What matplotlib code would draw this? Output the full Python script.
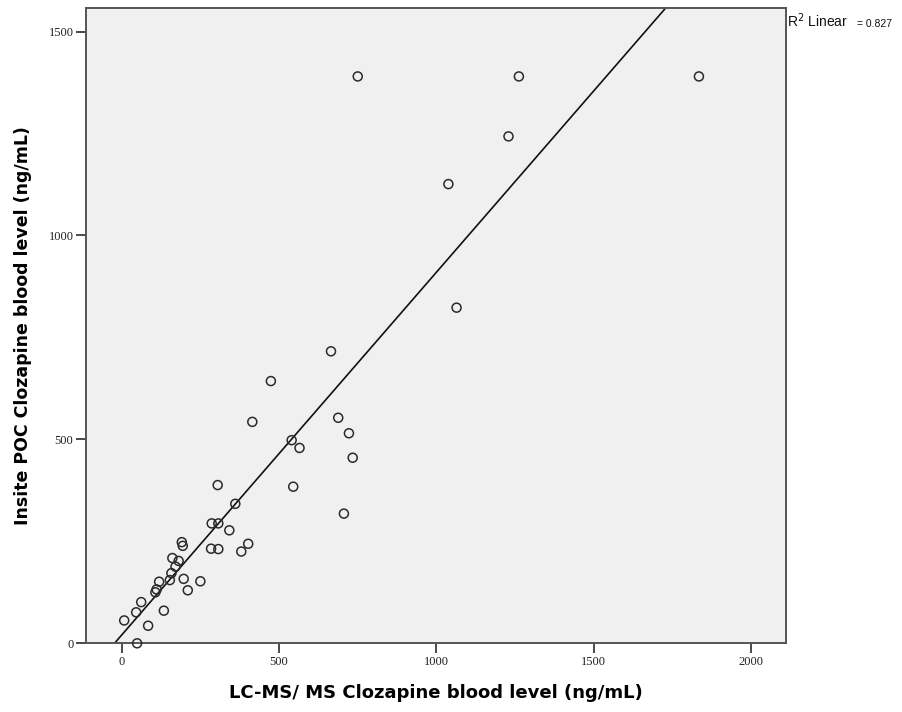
"""Scatter of Insite POC vs LC-MS/MS clozapine levels with a linear fit line."""

import matplotlib

matplotlib.use("Agg")

import matplotlib.pyplot as plt  # noqa: E402
import numpy as np  # noqa: E402

# LC-MS/MS clozapine level (ng/mL)
lcms = [
    750, 1262, 1834, 1229, 1038, 1064, 665, 474, 415, 688, 722,
    734, 540, 565, 545, 706, 305, 361, 286, 307, 342, 284,
    307, 380, 402, 191, 194, 161, 181, 171, 158, 153, 119,
    111, 107, 197, 250, 210, 134, 62, 46, 8, 84, 49,
]
# Insite POC clozapine level (ng/mL)
poc = [
    1390, 1390, 1390, 1243, 1126, 823, 716, 643, 543, 553, 515,
    455, 498, 479, 384, 318, 388, 342, 294, 294, 277, 232,
    231, 225, 244, 248, 239, 209, 202, 188, 172, 155, 151,
    132, 125, 158, 152, 130, 80, 101, 76, 56, 43, 0,
]
x_ticks = [0, 500, 1000, 1500, 2000]
y_ticks = [0, 500, 1000, 1500]
r2_text = "= 0.827"

BG = "#f0f0f0"
INK = "#2b2b2b"

fig = plt.figure(figsize=(9.03, 7.12), dpi=100)
ax = fig.add_axes([0.0952, 0.0965, 0.775, 0.8918])
ax.set_facecolor(BG)

ax.scatter(lcms, poc, s=42, facecolors="none", edgecolors=INK,
           linewidths=1.1, zorder=3, clip_on=False)

# least-squares fit line across the whole plot area
slope, intercept = np.polyfit(lcms, poc, 1)
xl = np.array([-200, 2200])
ax.plot(xl, slope * xl + intercept, color="#111111", lw=1.2, zorder=2)

ax.set_xlim(-113.5, 2110)
ax.set_ylim(0, 1557)
ax.set_xticks(x_ticks)
ax.set_yticks(y_ticks)
ax.tick_params(direction="out", length=7, width=1.2, color=INK,
               labelsize=9, labelcolor="#222222", pad=2)
for lab in ax.get_xticklabels() + ax.get_yticklabels():
    lab.set_family("Liberation Serif")
for side in ax.spines.values():
    side.set_color("#555555")
    side.set_linewidth(1.4)

ax.set_xlabel("LC-MS/ MS Clozapine blood level (ng/mL)", fontsize=13,
              fontweight="bold", labelpad=12)
ax.set_ylabel("Insite POC Clozapine blood level (ng/mL)", fontsize=12.5,
              fontweight="bold", labelpad=12)

fig.text(0.871, 0.962, "R$^2$ Linear", fontsize=10, color="#111111",
         family="Liberation Sans", va="baseline")
fig.text(0.949, 0.962, r2_text, fontsize=7.5, color="#111111",
         family="Liberation Sans", va="baseline")

fig.savefig("out.png", dpi=100)
